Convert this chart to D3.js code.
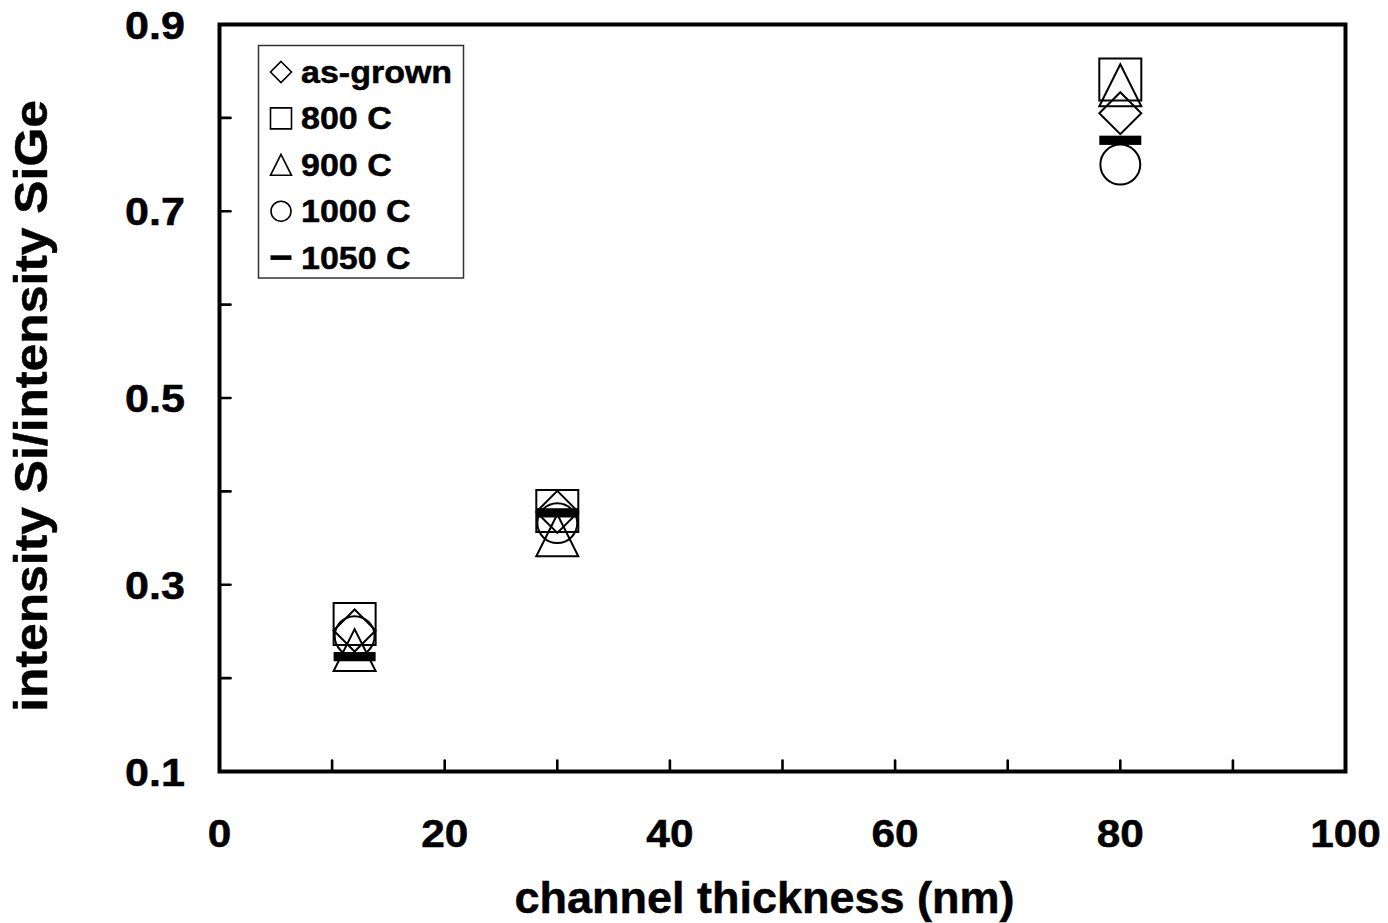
<!DOCTYPE html>
<html>
<head>
<meta charset="utf-8">
<script src="https://cdn.jsdelivr.net/npm/d3@7"></script>
<style>
  html, body { margin: 0; padding: 0; background: #fff; }
  svg { display: block; }
  text { font-family: "Liberation Sans", Arial, sans-serif; font-weight: bold; fill: #000; stroke: #000; stroke-width: 0.5; }
</style>
</head>
<body>
<svg id="chart" width="1388" height="923"></svg>
<script>
// ---- data ----
const thickness = [12, 30, 80];
const seriesNames = ["as-grown", "800 C", "900 C", "1000 C", "1050 C"];
const seriesShapes = ["diamond", "square", "triangle", "circle", "bar"];
const asGrown = [0.251, 0.378, 0.805];
const c800 = [0.258, 0.379, 0.841];
const c900 = [0.230, 0.353, 0.835];
const c1000 = [0.245, 0.366, 0.750];
const c1050 = [0.223, 0.377, 0.776];
const seriesValues = [asGrown, c800, c900, c1000, c1050];
const xTickLabels = [0, 20, 40, 60, 80, 100];
const yTickLabels = [0.1, 0.3, 0.5, 0.7, 0.9];
const xMinorTicks = d3.range(10, 100, 10);
const yMinorTicks = d3.range(2, 9).map(d => d / 10);

// ---- layout ----
const svg = d3.select("#chart");
const L = 219.5, R = 1345.5, T = 24.5, B = 771.5;
const x = d3.scaleLinear().domain([0, 100]).range([L, R]);
const y = d3.scaleLinear().domain([0.1, 0.9]).range([B, T]);

function shapePath(shape, s) {
  const h = s / 2;
  switch (shape) {
    case "diamond": return `M0,${-h}L${h},0L0,${h}L${-h},0Z`;
    case "square": return `M${-h},${-h}H${h}V${h}H${-h}Z`;
    case "triangle": return `M0,${-h}L${h},${h}L${-h},${h}Z`;
    case "circle": return `M${-h},0A${h},${h} 0 1,0 ${h},0A${h},${h} 0 1,0 ${-h},0Z`;
  }
}

function drawMarker(g, shape, cx, cy, s) {
  if (shape === "bar") {
    g.append("rect").attr("x", cx - s / 2).attr("y", cy - s * 0.11)
      .attr("width", s).attr("height", s * 0.22).attr("fill", "#000");
  } else {
    const sz = shape === "circle" ? s * 0.95 : s;
    g.append("path").attr("d", shapePath(shape, sz))
      .attr("transform", `translate(${cx},${cy})`)
      .attr("fill", "none").attr("stroke", "#000")
      .attr("stroke-width", s > 30 ? 2 : 1.6);
  }
}

// ---- ticks (inward) ----
const tickG = svg.append("g").attr("stroke", "#000").attr("stroke-width", 2.6).attr("stroke-linecap", "round");
xMinorTicks.forEach(v => {
  tickG.append("line").attr("x1", x(v)).attr("x2", x(v)).attr("y1", B).attr("y2", B - 11);
});
yMinorTicks.forEach(v => {
  tickG.append("line").attr("x1", L).attr("x2", L + 11).attr("y1", y(v)).attr("y2", y(v));
});

// ---- frame ----
svg.append("rect").attr("x", L).attr("y", T).attr("width", R - L).attr("height", B - T)
  .attr("fill", "none").attr("stroke", "#000").attr("stroke-width", 4);

// ---- tick labels ----
svg.append("g").selectAll("text").data(xTickLabels).join("text")
  .attr("transform", d => `translate(${x(d)},847) scale(1.1,1)`)
  .attr("text-anchor", "middle").attr("font-size", 38.5)
  .text(d => d);
svg.append("g").selectAll("text").data(yTickLabels).join("text")
  .attr("transform", d => `translate(185,${y(d) + 14}) scale(1.12,1)`)
  .attr("text-anchor", "end").attr("font-size", 38.5)
  .text(d => d3.format(".1f")(d));

// ---- axis titles ----
svg.append("text").attr("x", (L + R) / 2 - 18).attr("y", 913)
  .attr("text-anchor", "middle").attr("font-size", 45)
  .text("channel thickness (nm)");
svg.append("text").attr("transform", `translate(47,406) rotate(-90) scale(1.06,1)`)
  .attr("text-anchor", "middle").attr("font-size", 47)
  .text("intensity Si/intensity SiGe");

// ---- data markers ----
const mg = svg.append("g");
seriesValues.forEach((vals, si) => {
  vals.forEach((v, i) => {
    drawMarker(mg, seriesShapes[si], x(thickness[i]), y(v), 42);
  });
});

// ---- legend ----
const lg = svg.append("g");
lg.append("rect").attr("x", 258.5).attr("y", 45.5).attr("width", 205).attr("height", 232.5)
  .attr("fill", "#fff").attr("stroke", "#333").attr("stroke-width", 1.5);
seriesNames.forEach((name, i) => {
  const cy = 72 + i * 46.4;
  drawMarker(lg, seriesShapes[i], 281, cy, 21);
  lg.append("text").attr("transform", `translate(301,${cy + 11}) scale(1.08,1)`)
    .attr("font-size", 31.5).text(name);
});
</script>
</body>
</html>
